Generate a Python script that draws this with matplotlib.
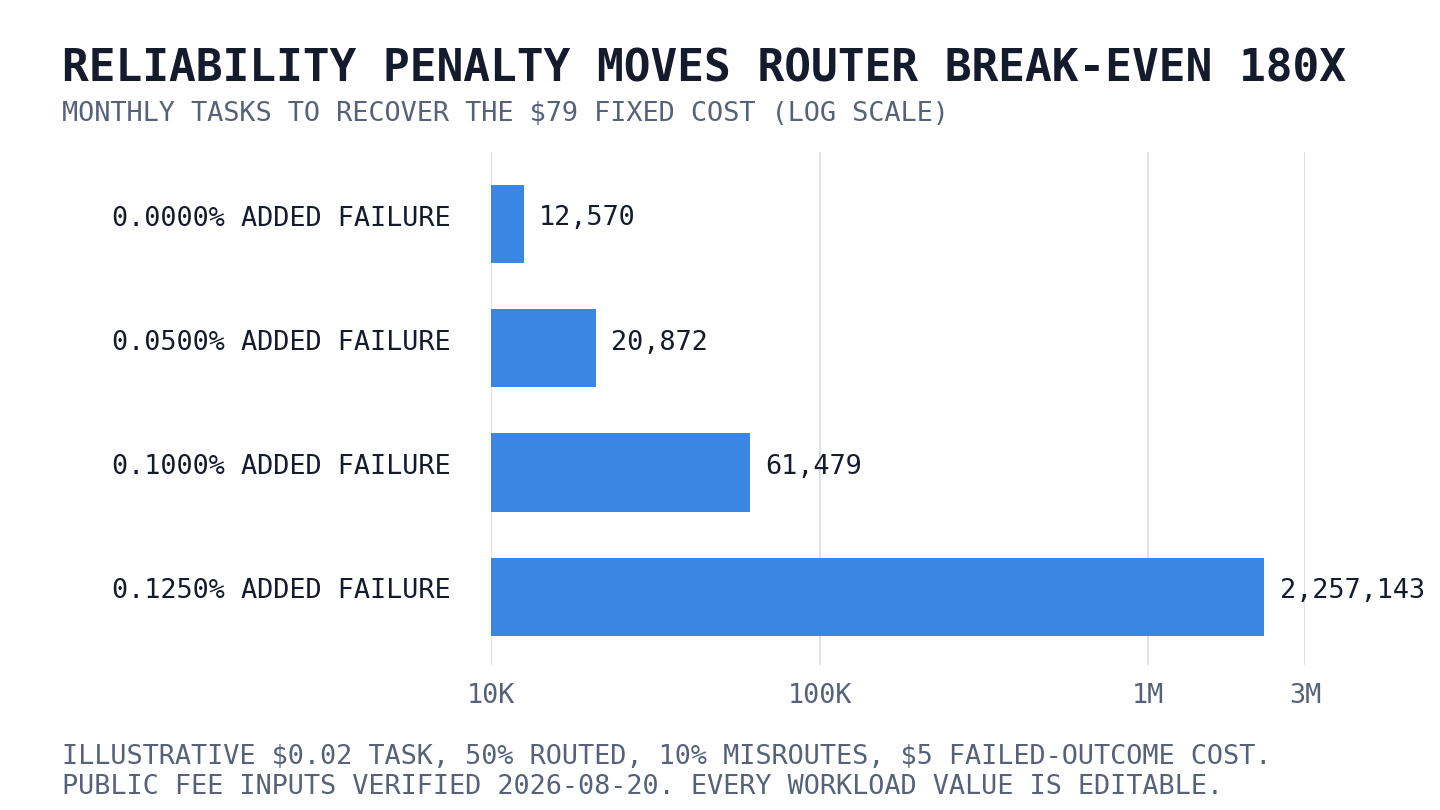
import matplotlib.pyplot as plt
import matplotlib.ticker as ticker
import matplotlib.transforms as mtransforms

categories = ['0.0000% ADDED FAILURE', '0.0500% ADDED FAILURE',
              '0.1000% ADDED FAILURE', '0.1250% ADDED FAILURE']
tasks = [12570, 20872, 61479, 2257143]
tick_vals = [1e4, 1e5, 1e6, 3e6]
tick_labels = ['10K', '100K', '1M', '3M']

title = 'RELIABILITY PENALTY MOVES ROUTER BREAK-EVEN 180X'
subtitle = 'MONTHLY TASKS TO RECOVER THE $79 FIXED COST (LOG SCALE)'
footer = ('ILLUSTRATIVE $0.02 TASK, 50% ROUTED, 10% MISROUTES, $5 FAILED-OUTCOME COST.\n'
          'PUBLIC FEE INPUTS VERIFIED 2026-08-20. EVERY WORKLOAD VALUE IS EDITABLE.')

dark = '#141b2d'
grey = '#56627a'
blue = '#3987e2'
gridc = '#d6dce9'
fs = 19.4

plt.rcParams['font.family'] = ['DejaVu Sans Mono', 'DejaVu Sans']
plt.rcParams['text.parse_math'] = False

fig = plt.figure(figsize=(14.4, 8.1), dpi=100)
ax = fig.add_axes([0.341, 0.179, 0.5653, 0.6334])

ax.set_xscale('log')
ax.set_xlim(1e4, 3e6)
ax.set_ylim(3.55, -0.58)

ypos = list(range(len(categories)))
ax.barh(ypos, [v - 1e4 for v in tasks], left=1e4, height=0.63, color=blue, zorder=2)

for y, v in zip(ypos, tasks):
    ax.annotate(f'{v:,}', xy=(v, y), xytext=(11, 4), textcoords='offset points',
                va='center', ha='left', fontsize=fs, color=dark, zorder=3,
                annotation_clip=False)

ax.set_yticks(ypos)
ax.set_yticklabels(categories, fontsize=fs, color=dark)
ax.xaxis.set_major_locator(ticker.FixedLocator(tick_vals))
ax.xaxis.set_minor_locator(ticker.NullLocator())
ax.set_xticklabels(tick_labels, fontsize=fs, color=grey)
ax.tick_params(axis='both', length=0)
ax.tick_params(axis='y', pad=29)
ax.tick_params(axis='x', pad=13)

# nudge category labels up a little to sit like the reference
shift = mtransforms.ScaledTranslation(0, 6 / 72, fig.dpi_scale_trans)
for lab in ax.get_yticklabels():
    lab.set_transform(lab.get_transform() + shift)

ax.grid(True, axis='x', color=gridc, linewidth=1.2, zorder=0)
ax.set_axisbelow(True)
for s in ax.spines.values():
    s.set_visible(False)

fig.text(0.043, 0.899, title, fontsize=32, fontweight='bold', color=dark, va='baseline')
fig.text(0.043, 0.851, subtitle, fontsize=fs, color=grey, va='baseline')
fig.text(0.043, 0.020, footer, fontsize=fs, color=grey, va='baseline',
         linespacing=1.2)

fig.savefig('out.png', dpi=100)
